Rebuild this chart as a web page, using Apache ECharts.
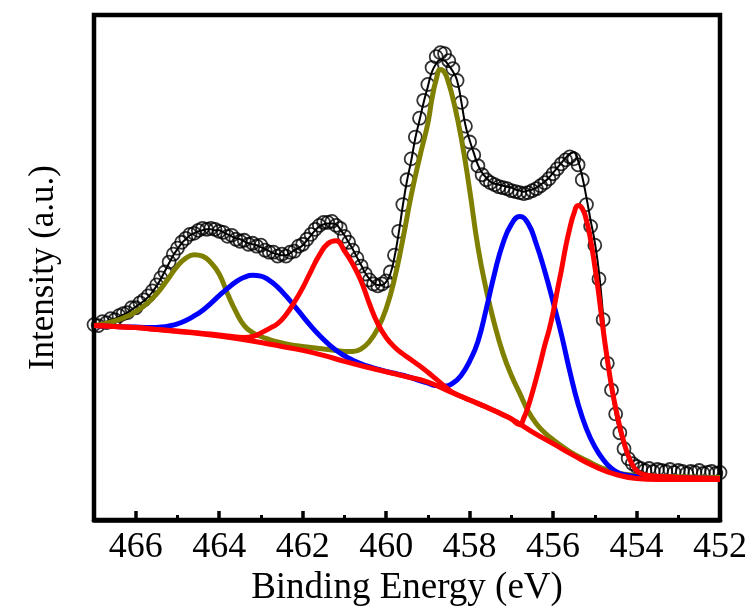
<!DOCTYPE html>
<html>
<head>
<meta charset="utf-8">
<script src="https://cdn.jsdelivr.net/npm/echarts@6/dist/echarts.min.js"></script>
<style>
html,body{margin:0;padding:0;background:#fff;}
#c{width:752px;height:612px;}
</style>
</head>
<body>
<div id="c"></div>
<script>
// Experimental points: binding energy grid 467.0 -> 452.0 eV, 0.1 eV step
var expStart = 467.0, expStep = 0.1;
var expIntensity = [
197,196,200,199,203,202,206,208,209,214,
214,219,222,226,231,237,244,250,260,268,
274,280,284,288,289,292,294,293,294,293,
291,290,286,287,283,281,282,278,279,276,
277,272,270,270,266,268,266,270,271,276,
278,283,288,293,297,300,300,301,297,294,
286,280,272,264,256,248,242,238,236,238,
241,250,267,291,318,343,364,386,405,423,
439,456,467,471,470,463,455,443,421,397,
381,368,357,348,343,340,338,336,335,334,
332,331,330,329,330,332,334,337,340,344,
349,354,359,363,366,364,358,343,318,296,
277,243,202,158,131,107,88,72,62,57,
54,52,50,52,49,51,50,49,51,48,
50,49,47,49,48,50,47,48,49,47,
48
];
// Fitted envelope on the same grid
var envelope = [
197,198,199,200,202,203,205,207,209,212,
215,218,221,225,230,236,243,251,259,267,
273,279,283,287,289,291,292,293,293,292,
292,290,288,286,284,283,281,279,278,277,
275,273,271,269,268,267,267,269,272,274,
277,282,287,292,296,298,299,299,298,293,
287,280,273,265,257,249,243,239,237,237,
240,248,265,289,317,342,362,385,403,421,
437,452,460,464,463,458,452,443,422,398,
383,370,358,350,345,341,339,338,337,336,
335,333,332,331,332,333,335,338,341,345,
350,355,360,365,369,371,362,346,325,302,
280,250,206,160,130,106,88,74,63,56,
51,49,47,46,45,45,45,45,45,44,
44,44,44,44,44,44,44,44,44,44,
44
];
// Shirley background [eV, intensity]
var background = [
[467,196],[466.5,195],[466,194],[465.5,192],[465,190],[464.5,188],[464,185.5],[463.5,182.5],
[463,179],[462.5,175],[462,171],[461.5,166],[461,160],[460.5,154.5],[460,149.5],[459.5,144.5],
[459,139],[458.5,130],[458,121],[457.5,112],[457,102],[456.5,89],[456,77],[455.5,65],
[455,54],[454.5,46],[454,42],[453.5,41],[453,41],[452.5,41],[452,41]
];
// Component 1 (olive): 464.6 / 458.7 eV doublet
var olive = [
[467,196],[466.8,197.5],[466.6,199.5],[466.4,202],[466.2,205.5],[466,210],[465.8,216],[465.6,223.5],
[465.4,233],[465.2,244.5],[465,256],[464.8,264],[464.6,267.5],[464.4,266],[464.2,259.5],[464,248],
[463.8,228],[463.6,210],[463.4,196],[463.2,189],[463,185],[462.8,182],[462.6,179.5],[462.4,177.5],
[462.2,176],[462,175],[461.8,174],[461.6,173],[461.4,172],[461.2,171],[461,170],[460.8,170],
[460.6,172.5],[460.4,180],[460.2,193],[460,213],[459.8,243],[459.6,283],[459.4,327],[459.2,365],
[459,400],[458.9,425],[458.8,444],[458.7,454],[458.6,451],[458.5,440],[458.4,425],[458.2,385],
[458,333],[457.8,275],[457.6,232],[457.4,197],[457.2,168],[457,146],[456.8,128],[456.6,110],
[456.4,97],[456.2,88],[456,81],[455.6,69],[455.2,60],[454.8,52],[454.4,47],[454,45],
[453.5,44],[452,43]
];
// Component 2 (blue): 463.1 / 456.8 eV doublet
var blue = [
[467,196],[466.8,195.6],[466.6,195.2],[466.4,194.9],[466.2,194.6],[466,194.5],[465.8,194.1],[465.6,194],
[465.4,194.5],[465.2,195.7],[465,197.7],[464.8,201.1],[464.6,205.7],[464.4,211.3],[464.2,218.5],[464,226.2],
[463.8,233.5],[463.6,240.1],[463.4,244.7],[463.2,246.7],[463,245.8],[462.8,241.6],[462.6,234.8],[462.4,225.9],
[462.2,215.9],[462,205.6],[461.8,195.4],[461.6,186.2],[461.4,178],[461.2,171.1],[461,165.6],[460.8,161.2],
[460.6,157.6],[460.4,154.6],[460.2,152.1],[460,149.8],[459.8,148],[459.6,146],[459.4,143.5],[459.2,140.5],
[459,138],[458.8,135.5],[458.6,135],[458.4,138],[458.2,146],[458,160],[457.8,180],[457.6,213],
[457.4,249],[457.2,279],[457,298],[456.8,306],[456.6,299],[456.4,278],[456.2,251],[456,220],
[455.8,187],[455.6,150],[455.4,117],[455.2,92],[455,74],[454.8,61],[454.6,52],[454.4,47],
[454.2,45],[454,44],[453.5,43],[452,42]
];
// Component 3 (red): 461.3 / 455.4 eV doublet
var red = [
[467,196],[466.5,195],[466,194],[465.5,192.2],[465,190.5],[464.6,189],[464.2,187.5],[463.8,185.5],
[463.4,184],[463.2,185],[463,188.5],[462.8,193],[462.6,198],[462.4,207],[462.2,219.5],[462,234],
[461.8,251],[461.6,267],[461.4,278.5],[461.2,281.5],[461,271.5],[460.8,258],[460.6,241],[460.4,218],
[460.2,198],[460,184],[459.8,174.5],[459.6,167.5],[459.4,161.5],[459.2,155.5],[459,149],[458.8,142],
[458.6,135],[458.4,128.5],[458.2,124.5],[458,121],[457.6,114],[457.2,106],[457,102],[456.8,96],
[456.7,103],[456.6,114],[456.5,128],[456.4,143],[456.3,159],[456.2,176],[456.1,191],[456,209],
[455.9,231],[455.8,252],[455.7,275],[455.6,294],[455.5,309],[455.4,317],[455.3,314],[455.2,302],
[455.1,282],[455,256],[454.9,226],[454.8,192],[454.7,162],[454.6,135],[454.5,113],[454.4,94],
[454.3,78],[454.2,65],[454.1,56],[454,50],[453.9,47],[453.7,45],[453.4,44],[453,43],[452,42]
];
var xTickLabels = ['452','454','456','458','460','462','464','466'];

function onGrid(vals){
  var out = [];
  for (var i = 0; i < vals.length; i++) {
    out.push([+(expStart - i*expStep).toFixed(1), vals[i]]);
  }
  return out;
}

var font = '"Liberation Serif","Times New Roman",serif';
var chart = echarts.init(document.getElementById('c'), null, {renderer:'canvas'});
chart.setOption({
  animation:false,
  backgroundColor:'#fff',
  grid:{left:94,right:32,top:15,bottom:88,show:true,borderColor:'#000',borderWidth:4.5,backgroundColor:'transparent'},
  xAxis:{
    type:'value', min:452, max:467, interval:2, inverse:true,
    name:'Binding Energy (eV)', nameLocation:'middle', nameGap:42,
    nameTextStyle:{fontFamily:font,fontSize:37,color:'#000'},
    axisLine:{show:true,lineStyle:{color:'#000',width:4.5}},
    axisTick:{show:true,inside:true,length:9,lineStyle:{color:'#000',width:3.5}},
    minorTick:{show:true,splitNumber:2,length:5,lineStyle:{color:'#000',width:3}},
    splitLine:{show:false},
    axisLabel:{show:true,margin:9,fontFamily:font,fontSize:36,color:'#000',showMaxLabel:false,
      formatter:function(v){ var s=String(v); return xTickLabels.indexOf(s)>=0 ? s : ''; }}
  },
  yAxis:{
    type:'value', min:0, max:509,
    name:'Intensity (a.u.)', nameLocation:'middle', nameGap:33,
    nameTextStyle:{fontFamily:font,fontSize:35,color:'#000'},
    axisLine:{show:false}, axisTick:{show:false}, axisLabel:{show:false}, splitLine:{show:false}
  },
  series:[
    {type:'scatter', data:onGrid(expIntensity), symbol:'circle', symbolSize:13,
     itemStyle:{color:'rgba(0,0,0,0)',borderColor:'#000',borderWidth:1.8}, z:2},
    {type:'line', data:onGrid(envelope), smooth:true, showSymbol:false,
     lineStyle:{color:'#000',width:2}, z:3},
    {type:'line', data:olive, smooth:true, showSymbol:false, lineStyle:{color:'#808000',width:5}, z:4},
    {type:'line', data:blue, smooth:true, showSymbol:false, lineStyle:{color:'#0000ff',width:5}, z:5},
    {type:'line', data:red, smooth:true, showSymbol:false, lineStyle:{color:'#ff0000',width:5}, z:6},
    {type:'line', data:background, smooth:true, showSymbol:false, lineStyle:{color:'#ff0000',width:5}, z:7}
  ]
});
</script>
</body>
</html>
